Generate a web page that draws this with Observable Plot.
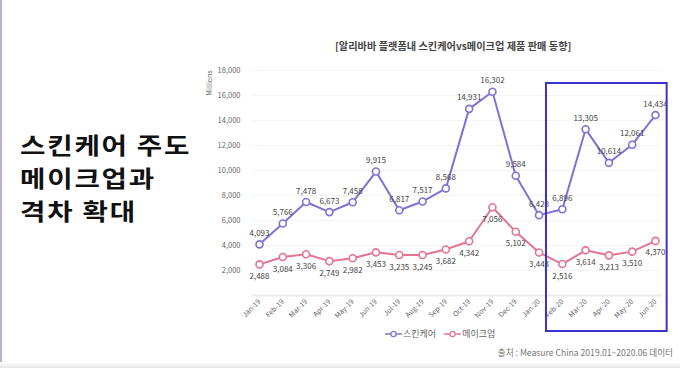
<!DOCTYPE html>
<html>
<head>
<meta charset="utf-8">
<script src="https://cdn.jsdelivr.net/npm/d3@7"></script>
<script src="https://cdn.jsdelivr.net/npm/@observablehq/plot@0.6"></script>
<style>
  html, body { margin: 0; padding: 0; background: #fff; }
  body { font-family: "Noto Sans CJK KR", "Noto Sans", sans-serif; }
  #wrap { position: relative; width: 680px; height: 368px; overflow: hidden; background: #fff; }
  #chart { position: absolute; left: 0; top: 0; }
  .abs { position: absolute; white-space: nowrap; }
  #bar { position: absolute; left: 0; top: 0; width: 2px; height: 368px; background: #bcaed6; }
  .hl { left: 20px; font-size: 23px; font-weight: 700; line-height: normal; color: #111; letter-spacing: 1.5px; transform: scaleX(1.2); transform-origin: left center; }
  #title { left: 335px; top: 38px; font-size: 10.2px; font-weight: 700; color: #444; }
  #ylabel { left: 196px; top: 78px; font-size: 7px; color: #666; transform: rotate(-90deg); }
  #legend { left: 385px; top: 327px; font-size: 9px; color: #666; display: flex; align-items: center; }
  #legend .item { display: flex; align-items: center; margin-right: 8px; }
  #caption { right: 7px; top: 346px; font-size: 8.6px; color: #777; }
  #shade { position: absolute; left: 0; top: 362px; width: 680px; height: 6px; background: linear-gradient(#fff, #e4e4e4); }
</style>
</head>
<body>
<div id="wrap">
  <div id="chart"></div>
  <div id="bar"></div>
  <div class="abs hl" style="top:127px">스킨케어 주도</div>
  <div class="abs hl" style="top:160px">메이크업과</div>
  <div class="abs hl" style="top:193px">격차 확대</div>
  <div id="title" class="abs">[알리바바 플랫폼내 스킨케어vs메이크업 제품 판매 동향]</div>
  <div id="ylabel" class="abs">Millions</div>
  <div id="legend" class="abs"></div>
  <div id="caption" class="abs">출처 : Measure China 2019.01~2020.06 데이터</div>
  <div id="shade"></div>
</div>
<script>
const months = ["Jan-19","Feb-19","Mar-19","Apr-19","May-19","Jun-19","Jul-19","Aug-19","Sep-19","Oct-19","Nov-19","Dec-19","Jan-20","Feb-20","Mar-20","Apr-20","May-20","Jun-20"];
const skincare = [4093,5766,7478,6673,7458,9915,6817,7517,8568,14931,16302,9584,6428,6896,13305,10614,12061,14434];
const makeup = [2488,3084,3306,2749,2982,3453,3235,3245,3682,4342,7056,5102,3443,2516,3614,3213,3510,4370];
const seriesNames = ["스킨케어","메이크업"];
const seriesColors = ["#7f72d4","#e27592"];
const yTicks = [2000,4000,6000,8000,10000,12000,14000,16000,18000];
const highlight = {from: "Feb-20", to: "Jun-20", top: 16960, bottom: -2880};

const rows = [];
months.forEach((m, i) => {
  rows.push({i, month: m, value: skincare[i], series: seriesNames[0]});
  rows.push({i, month: m, value: makeup[i], series: seriesNames[1]});
});
const sk = rows.filter(d => d.series === seriesNames[0]);
const mk = rows.filter(d => d.series === seriesNames[1]);
const fmt = d3.format(",");
const hl = [{x1: months.indexOf(highlight.from) - 0.68, x2: months.indexOf(highlight.to) + 0.5, y1: highlight.bottom, y2: highlight.top}];

const plot = Plot.plot({
  width: 680,
  height: 368,
  marginLeft: 259,
  marginRight: 25,
  marginTop: 70,
  marginBottom: 73,
  style: {fontFamily: "'Noto Sans CJK KR', 'Noto Sans', sans-serif", background: "transparent", overflow: "visible"},
  x: {type: "linear", domain: [0, months.length - 1]},
  y: {domain: [0, 18000]},
  marks: [
    Plot.gridY(yTicks, {stroke: "#f3f3f3", strokeOpacity: 1, x1: -0.3, x2: 17.3}),
    Plot.ruleY([0], {stroke: "#ececec", strokeWidth: 2, x1: -0.3, x2: 17.3}),
    Plot.axisY(yTicks, {tickSize: 0, tickPadding: 19, tickFormat: fmt, fontSize: 7.5, fill: "#666", label: null}),
    Plot.axisX(d3.range(months.length), {tickSize: 0, tickPadding: 5, tickRotate: -45, tickFormat: i => months[i], fontSize: 7, fill: "#666", label: null}),
    Plot.line(sk, {x: "i", y: "value", stroke: seriesColors[0], strokeWidth: 2}),
    Plot.line(mk, {x: "i", y: "value", stroke: seriesColors[1], strokeWidth: 2}),
    Plot.dot(sk, {x: "i", y: "value", r: 3.5, stroke: seriesColors[0], strokeWidth: 1.6, fill: "#fff"}),
    Plot.dot(mk, {x: "i", y: "value", r: 3.5, stroke: seriesColors[1], strokeWidth: 1.6, fill: "#fff"}),
    Plot.text(sk, {x: "i", y: "value", text: d => fmt(d.value), dy: -11, fontSize: 8, fill: "#444"}),
    Plot.text(mk, {x: "i", y: "value", text: d => fmt(d.value), dy: 12, fontSize: 8, fill: "#444"}),
    Plot.rect(hl, {x1: "x1", x2: "x2", y1: "y1", y2: "y2", fill: "none", stroke: "#3b31cc", strokeWidth: 2})
  ]
});
document.getElementById("chart").appendChild(plot);

const legend = document.getElementById("legend");
seriesNames.forEach((name, k) => {
  const item = document.createElement("div");
  item.className = "item";
  item.innerHTML = `<svg width="17" height="8"><line x1="0" y1="4" x2="17" y2="4" stroke="${seriesColors[k]}" stroke-width="1.5"/><circle cx="8.5" cy="4" r="2.6" fill="#fff" stroke="${seriesColors[k]}" stroke-width="1.3"/></svg><span style="margin-left:1px">${name}</span>`;
  legend.appendChild(item);
});
</script>
</body>
</html>
